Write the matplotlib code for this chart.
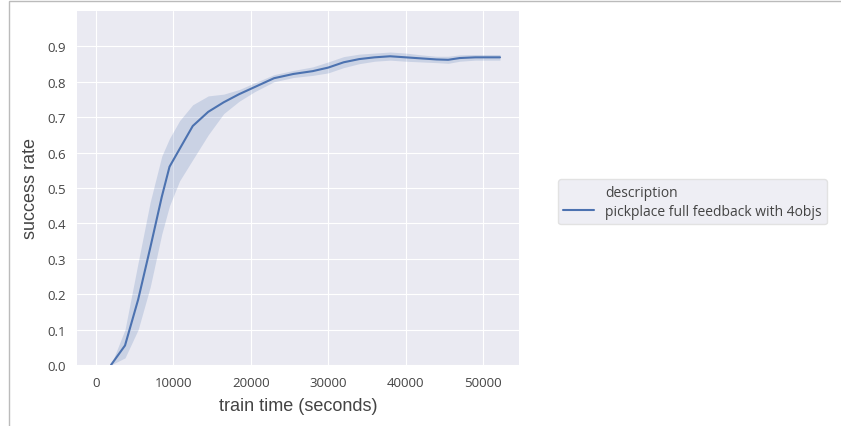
import matplotlib.pyplot as plt
import seaborn as sns
from matplotlib.lines import Line2D
from matplotlib.patches import Rectangle

# train time (s) and mean success rate with the confidence band
train_time = [1940, 3750, 5450, 7000, 8500, 9500, 10800, 12500, 14500, 16500,
              18500, 20500, 23000, 25500, 28000, 30000, 32000, 34000, 36000,
              38000, 40000, 42000, 44000, 45500, 47000, 49000, 52200]
success = [0.0, 0.055, 0.185, 0.33, 0.475, 0.56, 0.61, 0.675, 0.715, 0.742,
           0.765, 0.785, 0.81, 0.822, 0.83, 0.84, 0.855, 0.864, 0.869,
           0.872, 0.869, 0.866, 0.863, 0.862, 0.867, 0.869, 0.869]
upper = [0.0, 0.10, 0.29, 0.46, 0.59, 0.64, 0.69, 0.735, 0.76, 0.765,
         0.778, 0.797, 0.82, 0.832, 0.842, 0.856, 0.871, 0.878, 0.881,
         0.884, 0.881, 0.876, 0.872, 0.872, 0.876, 0.877, 0.877]
lower = [0.0, 0.02, 0.10, 0.22, 0.37, 0.45, 0.52, 0.58, 0.65, 0.71,
         0.745, 0.772, 0.80, 0.812, 0.818, 0.825, 0.840, 0.851, 0.858,
         0.861, 0.858, 0.856, 0.854, 0.852, 0.858, 0.861, 0.861]
series_name = "pickplace full feedback with 4objs"
legend_title = "description"

sns.set_style("darkgrid")
plt.rcParams['font.family'] = ['Open Sans', 'DejaVu Sans']

fig = plt.figure(figsize=(8.41, 4.27), dpi=100)
ax = fig.add_axes([0.0916, 0.143, 0.5255, 0.829])

blue = "#4C72B0"
ax.fill_between(train_time, lower, upper, color=blue, alpha=0.2, linewidth=0)
ax.plot(train_time, success, color=blue, linewidth=1.5)

ax.set_xlim(-2450, 54650)
ax.set_ylim(0, 1.0)
ax.set_xticks([0, 10000, 20000, 30000, 40000, 50000])
ax.set_yticks([0.0, 0.1, 0.2, 0.3, 0.4, 0.5, 0.6, 0.7, 0.8, 0.9])
ax.tick_params(labelsize=9.5, labelcolor="#444444", length=0, pad=8)
for s in ax.spines.values():
    s.set_visible(False)

ax.set_xlabel("train time (seconds)", fontsize=13, family="Liberation Sans",
              color="#444444", labelpad=6)
ax.set_ylabel("success rate", fontsize=13, family="Liberation Sans",
              color="#444444", labelpad=6)

# legend like seaborn relplot: title row then the series
handles = [Line2D([], [], color="none"), Line2D([], [], color=blue, lw=1.5)]
leg = fig.legend(handles, [legend_title, series_name], loc="center left",
                 bbox_to_anchor=(0.655, 0.525), fontsize=10, frameon=True,
                 handlelength=2.2, borderpad=0.4, labelspacing=0.3)
leg.get_frame().set_facecolor("#EAEAF2")
leg.get_frame().set_edgecolor("#DDDDDD")
for t in leg.get_texts():
    t.set_color("#444444")

# screenshot frame on top and left
fig.add_artist(Rectangle((0.011, -0.01), 1.2, 1.005, transform=fig.transFigure,
                         fill=False, edgecolor="#BBBBBB", linewidth=1))

fig.savefig("out.png", dpi=100)
